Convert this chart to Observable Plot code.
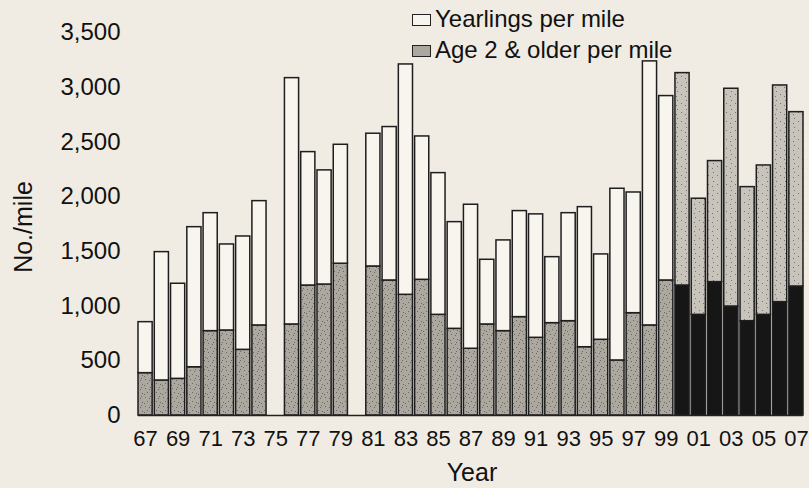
<!DOCTYPE html>
<html>
<head>
<meta charset="utf-8">
<script src="https://cdn.jsdelivr.net/npm/d3@7"></script>
<script src="https://cdn.jsdelivr.net/npm/@observablehq/plot@0.6"></script>
<style>
  html, body { margin: 0; padding: 0; background: #f0ebe3; }
  #wrap { position: relative; width: 809px; height: 488px; font-family: "Liberation Sans", Arial, sans-serif; color: #111; }
  .legend { position: absolute; left: 412px; font-size: 24px; line-height: 1; white-space: nowrap; }
  .legend .sw { display: inline-block; width: 19px; height: 12px; border: 1.5px solid #222; margin-right: 4px; vertical-align: 1px; box-sizing: border-box; }
  .ttl { position: absolute; white-space: nowrap; line-height: 1; }
</style>
</head>
<body>
<div id="wrap"></div>
<script>
// Years (two-digit labels); 1975 and 1980 have no survey
const years = [1967,1968,1969,1970,1971,1972,1973,1974,1975,1976,1977,1978,1979,1980,
  1981,1982,1983,1984,1985,1986,1987,1988,1989,1990,1991,1992,1993,1994,1995,1996,1997,1998,1999,
  2000,2001,2002,2003,2004,2005,2006,2007];
// Age 2 & older per mile (bottom segment)
const age2 = [387,320,335,441,771,777,600,823,null,832,1188,1197,1387,null,
  1362,1234,1103,1240,920,792,610,832,771,899,710,844,862,624,692,503,935,823,1234,
  1188,920,1219,996,862,920,1036,1179];
// Yearlings per mile (top segment)
const yearlings = [466,1173,869,1280,1078,786,1036,1136,null,2251,1219,1043,1087,null,
  1213,1402,2105,1310,1295,975,1316,591,829,969,1128,603,987,1280,780,1569,1103,2413,1685,
  1941,1061,1106,1990,1225,1365,1980,1593];
const yTicks = [0,500,1000,1500,2000,2500,3000,3500];
const xTickYears = years.filter(y => y % 2 === 1);
const seriesNames = ["Age 2 & older per mile", "Yearlings per mile"];

const fillFor = (series, year) => {
  if (year >= 2000) return series === seriesNames[0] ? "#161616" : "url(#speckLight)";
  return series === seriesNames[0] ? "url(#speckGray)" : "#f8f5ef";
};

const rows = [];
years.forEach((yr, i) => {
  if (age2[i] == null) return;
  rows.push({year: String(yr), series: seriesNames[0], value: age2[i]});
  rows.push({year: String(yr), series: seriesNames[1], value: yearlings[i]});
});

const plot = Plot.plot({
  width: 809,
  height: 488,
  marginTop: 32,
  marginBottom: 73,
  marginLeft: 138,
  marginRight: 6,
  style: {background: "#f0ebe3", fontFamily: "Liberation Sans, Arial, sans-serif", color: "#111"},
  x: {domain: years.map(String), paddingInner: 0.13, paddingOuter: 0, round: false},
  y: {domain: [0, 3500]},
  marks: [
    Plot.barY(rows, Plot.stackY({
      x: "year", y: "value", order: null,
      fill: d => fillFor(d.series, +d.year),
      stroke: "#1e1e1e", strokeWidth: 1.5
    })),
    Plot.axisY({
      ticks: yTicks, tickFormat: d3.format(","), tickSize: 0, tickPadding: 18,
      fontSize: 24, label: null
    }),
    Plot.axisX({
      ticks: xTickYears.map(String), tickFormat: d => d.slice(2), tickSize: 0, tickPadding: 15,
      fontSize: 22, label: null
    }),
    Plot.ruleX([0], {frameAnchor: "left", stroke: "#555", strokeWidth: 1}),
    Plot.ruleY([0], {stroke: "#222", strokeWidth: 1.5})
  ]
});

// speckle textures (styling only)
const ns = "http://www.w3.org/2000/svg";
const defs = document.createElementNS(ns, "defs");
function makePattern(id, base, dot, dots) {
  const p = document.createElementNS(ns, "pattern");
  p.setAttribute("id", id);
  p.setAttribute("patternUnits", "userSpaceOnUse");
  p.setAttribute("width", 9);
  p.setAttribute("height", 9);
  const r = document.createElementNS(ns, "rect");
  r.setAttribute("width", 9); r.setAttribute("height", 9); r.setAttribute("fill", base);
  p.appendChild(r);
  dots.forEach(([x, y]) => {
    const c = document.createElementNS(ns, "rect");
    c.setAttribute("x", x); c.setAttribute("y", y);
    c.setAttribute("width", 1); c.setAttribute("height", 1);
    c.setAttribute("fill", dot);
    p.appendChild(c);
  });
  defs.appendChild(p);
}
makePattern("speckGray", "#aca8a0", "#6a6760", [[1,1],[5,2],[3,5],[7,6],[0,7],[6,0]]);
makePattern("speckLight", "#c8c4bc", "#77746d", [[2,1],[6,4],[1,6]]);
plot.insertBefore(defs, plot.firstChild);

const wrap = document.getElementById("wrap");
wrap.appendChild(plot);

// Legend
const leg = [
  {label: "Yearlings per mile", fill: "#f8f5ef", top: 7},
  {label: "Age 2 & older per mile", fill: "#aca8a0", top: 38}
];
leg.forEach(l => {
  const div = document.createElement("div");
  div.className = "legend";
  div.style.top = l.top + "px";
  div.innerHTML = `<span class="sw" style="background:${l.fill}"></span>${l.label}`;
  wrap.appendChild(div);
});

// Axis titles
const yt = document.createElement("div");
yt.className = "ttl";
yt.textContent = "No./mile";
yt.style.fontSize = "25px";
yt.style.left = "23px"; yt.style.top = "227px";
yt.style.transform = "translate(-50%, -50%) rotate(-90deg)";
wrap.appendChild(yt);

const xt = document.createElement("div");
xt.className = "ttl";
xt.textContent = "Year";
xt.style.fontSize = "25px";
xt.style.left = "472px"; xt.style.top = "472px";
xt.style.transform = "translate(-50%, -50%)";
wrap.appendChild(xt);
</script>
</body>
</html>
